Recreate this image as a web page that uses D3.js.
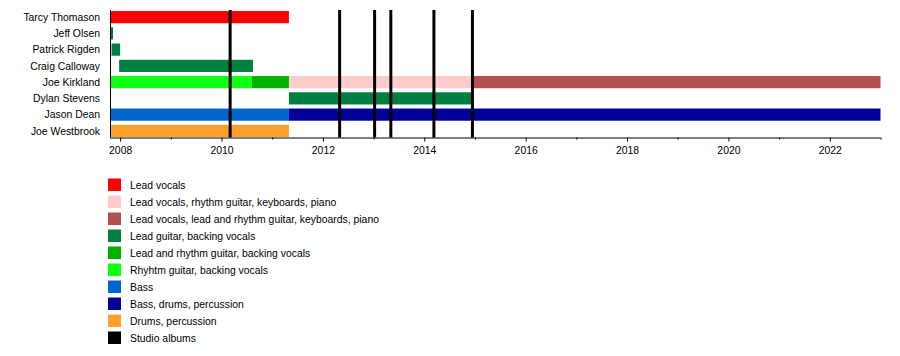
<!DOCTYPE html>
<html>
<head>
<meta charset="utf-8">
<script src="https://cdn.jsdelivr.net/npm/d3@7"></script>
<style>
  html, body { margin: 0; padding: 0; background: #fff; }
  svg { display: block; font-family: "Liberation Sans", Arial, Helvetica, sans-serif; }
</style>
</head>
<body>
<svg id="chart" width="900" height="356"></svg>
<script>
// ---- data ----
const members = ["Tarcy Thomason", "Jeff Olsen", "Patrick Rigden", "Craig Calloway",
                 "Joe Kirkland", "Dylan Stevens", "Jason Dean", "Joe Westbrook"];

const roles = ["Lead vocals",
               "Lead vocals, rhythm guitar, keyboards, piano",
               "Lead vocals, lead and rhythm guitar, keyboards, piano",
               "Lead guitar, backing vocals",
               "Lead and rhythm guitar, backing vocals",
               "Rhyhtm guitar, backing vocals",
               "Bass",
               "Bass, drums, percussion",
               "Drums, percussion",
               "Studio albums"];

const roleColors = ["#ff0000", "#ffcccc", "#b24f4f", "#008040", "#00b200",
                    "#11ff11", "#0066cc", "#000099", "#ffa02a", "#000000"];

// stints: member, role index, start (decimal year), end (decimal year)
const stintMember = ["Tarcy Thomason", "Jeff Olsen", "Patrick Rigden", "Craig Calloway",
                     "Joe Kirkland", "Joe Kirkland", "Joe Kirkland", "Joe Kirkland",
                     "Dylan Stevens", "Jason Dean", "Jason Dean", "Joe Westbrook"];
const stintRole   = [0, 3, 3, 3, 5, 4, 1, 2, 3, 6, 7, 8];
const stintStart  = [2007.80, 2007.80, 2007.83, 2007.98, 2007.80, 2010.60, 2011.33, 2014.95,
                     2011.33, 2007.80, 2011.33, 2007.80];
const stintEnd    = [2011.33, 2007.86, 2008.00, 2010.62, 2010.60, 2011.33, 2014.95, 2023.00,
                     2014.97, 2011.33, 2023.00, 2011.33];

const albums = [2010.17, 2012.33, 2013.02, 2013.34, 2014.19, 2014.95];

const timeDomain = [2007.80, 2023.00];
const majorTicks = [2008, 2010, 2012, 2014, 2016, 2018, 2020, 2022];
const minorTicks = [2009, 2011, 2013, 2015, 2017, 2019, 2021, 2023];

// ---- layout ----
const svg = d3.select("#chart");
const plotLeft = 110, plotRight = 880.5, plotTop = 9, axisY = 137.5;
const fs = 10.4;

const x = d3.scaleLinear().domain(timeDomain).range([plotLeft, plotRight]);
const y = d3.scaleBand().domain(members).range([plotTop, 139]).paddingInner(0.25).paddingOuter(0.125);
const color = d3.scaleOrdinal().domain(d3.range(roles.length)).range(roleColors);

const stints = stintMember.map((m, i) => ({m, r: stintRole[i], s: stintStart[i], e: stintEnd[i]}));

// bars
svg.append("g").selectAll("rect").data(stints).join("rect")
  .attr("x", d => x(d.s))
  .attr("y", d => y(d.m))
  .attr("width", d => x(d.e) - x(d.s))
  .attr("height", y.bandwidth())
  .attr("fill", d => color(d.r));

// album lines
svg.append("g").selectAll("line").data(albums).join("line")
  .attr("x1", d => x(d)).attr("x2", d => x(d))
  .attr("y1", 10).attr("y2", axisY)
  .attr("stroke", color(9)).attr("stroke-width", 3);

// left vertical axis line
svg.append("line").attr("x1", plotLeft + 0.5).attr("x2", plotLeft + 0.5)
  .attr("y1", 10).attr("y2", axisY).attr("stroke", "#000").attr("stroke-width", 1);

// bottom axis (major)
const axisMajor = d3.axisBottom(x).tickValues(majorTicks).tickFormat(d3.format("d"))
  .tickSize(4).tickPadding(5).tickSizeOuter(0);
const gMaj = svg.append("g").attr("transform", `translate(0,${axisY})`).call(axisMajor);
gMaj.select(".domain").attr("stroke", "#000").attr("d", `M${plotLeft},0.5H${plotRight}`);
gMaj.selectAll(".tick text").attr("font-size", fs).attr("fill", "#000")
  .attr("font-family", "Liberation Sans, Arial, sans-serif");
gMaj.selectAll(".tick line").attr("stroke", "#000");

// minor ticks
const axisMinor = d3.axisBottom(x).tickValues(minorTicks).tickFormat("").tickSize(2).tickSizeOuter(0);
const gMin = svg.append("g").attr("transform", `translate(0,${axisY})`).call(axisMinor);
gMin.select(".domain").remove();
gMin.selectAll(".tick line").attr("stroke", "#000");

// member labels
svg.append("g").selectAll("text").data(members).join("text")
  .attr("x", 100)
  .attr("y", d => y(d) + y.bandwidth() / 2)
  .attr("dy", "0.36em")
  .attr("text-anchor", "end")
  .attr("font-size", fs)
  .attr("fill", "#000")
  .text(d => d);

// legend
const legend = svg.append("g").selectAll("g").data(roles).join("g")
  .attr("transform", (d, i) => `translate(108,${178.5 + i * 17})`);
legend.append("rect").attr("width", 13).attr("height", 12.5)
  .attr("fill", (d, i) => color(i));
legend.append("text").attr("x", 22).attr("y", 6.5).attr("dy", "0.36em")
  .attr("font-size", fs).attr("fill", "#000").text(d => d);
</script>
</body>
</html>
